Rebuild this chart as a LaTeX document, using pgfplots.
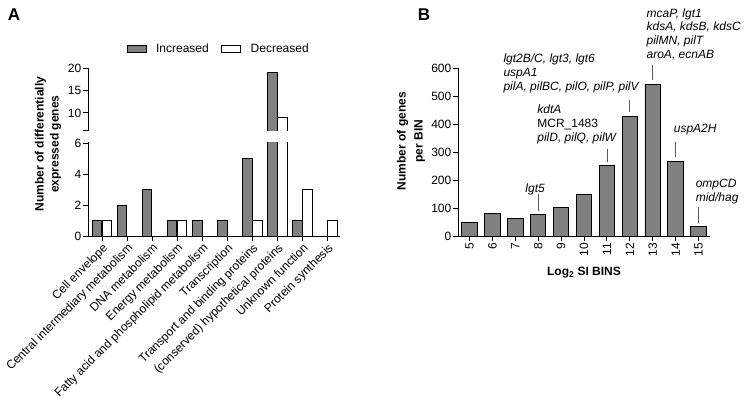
\documentclass[border=0pt]{standalone}
\usepackage{pgfplots}
\pgfplotsset{compat=1.18}
\usepackage{fontspec}
\setmainfont{Liberation Sans}
\newcommand{\fs}{\fontsize{12bp}{14bp}\selectfont}
\definecolor{barfill}{RGB}{128,128,128}
\definecolor{annline}{RGB}{90,90,90}
\tikzset{ann/.style={font=\fs\itshape, anchor=base west, inner sep=0pt}}
\begin{document}
\begin{tikzpicture}
\path[use as bounding box] (0bp,0bp) rectangle (745bp,-404bp);
\pgfplotsset{
  common/.style={
    scale only axis, width=252bp,
    axis line style={-, line width=1bp, black},
    tick style={line width=1bp, black},
    major tick length=5bp,
    tick align=outside,
    tick label style={font=\fs},
    /pgf/number format/assume math mode=true,
    yticklabel style={inner sep=1.5bp},
  },
  incbar/.style={ybar, bar width=9.5bp, bar shift=-5bp, fill=barfill, draw=black, line width=0.9bp},
  decbar/.style={ybar, bar width=9.5bp, bar shift=5bp, fill=white, draw=black, line width=0.9bp},
}
% panel letters
\node[font=\fontsize{17bp}{19bp}\selectfont\bfseries, anchor=center] at (14bp,-15bp) {A};
\node[font=\fontsize{17bp}{19bp}\selectfont\bfseries, anchor=center] at (424bp,-15bp) {B};
% y labels
\node[font=\fs\bfseries, align=center, rotate=90, anchor=center] at (48bp,-144bp) {Number of differentially\\[1bp]expressed genes};
\node[font=\fs\bfseries, align=center, rotate=90, anchor=center] at (411bp,-141bp) {Number of genes\\[3bp]per BIN};

% ---------------- Panel A (broken y axis via coordinate transformation) ----------------
\begin{axis}[common, at={(88bp,-236bp)}, anchor=south west, height=168bp,
  y coord trafo/.code={\pgfmathparse{#1>6.1 ? 6.839+(#1-6.2)*0.2903 : #1}},
  ymin=0, ymax=20,
  ytick={0,2,4,6,10,15,20}, yticklabels={0,2,4,6,10,15,20},
  extra y ticks={6.2}, extra y tick labels={},
  xmin=-0.56, xmax=9.5,
  axis x line*=bottom, axis y line*=left,
  xtick={0,...,9},
  xticklabels={Cell envelope, Central intermediary metabolism, DNA metabolism, Energy metabolism, Fatty acid and phospholipid metabolism, Transcription, Transport and binding proteins, (conserved) hypothetical proteins, Unknown function, Protein synthesis},
  xticklabel style={rotate=45, anchor=north east, inner sep=1bp, font=\fs},
  clip=false,
  legend image code/.code={\draw[#1, line width=0.9bp] (0bp,-3.5bp) rectangle (19bp,3.5bp);},
  legend style={draw=none, fill=none, font=\fs, legend columns=2, inner sep=0pt, outer sep=0pt,
    at={(0.1536,1)}, anchor=west, yshift=19.3bp,
    /tikz/every odd column/.append style={column sep=7.5bp},
    /tikz/every even column/.append style={column sep=10.5bp}},
]
\addlegendimage{fill=barfill, draw=black}
\addlegendentry{Increased}
\addlegendimage{fill=white, draw=black}
\addlegendentry{Decreased}
\addplot[incbar] coordinates {(0,1) (1,2) (2,3) (3,1) (4,1) (5,1) (6,5) (7,19) (8,1)};
\addplot[decbar] coordinates {(0,1) (3,1) (6,1) (7,9) (8,3) (9,1)};
% the break of the y axis
\fill[white] ([xshift=-1bp]rel axis cs:0,0.5575) rectangle (rel axis cs:1,0.626);
\end{axis}

% ---------------- Panel B ----------------
\begin{axis}[common, at={(458bp,-236bp)}, anchor=south west, height=168bp,
  ymin=0, ymax=600, ytick={0,100,...,600},
  xmin=4.5, xmax=15.5, xtick={5,...,15},
  axis x line*=bottom, axis y line*=left,
  xticklabel style={rotate=90, anchor=east, inner sep=2bp},
  xlabel={\textbf{Log\textsubscript{2} SI BINS}},
  xlabel style={font=\fs, yshift=-5bp},
  clip=false,
]
\addplot[ybar, bar width=15.5bp, bar shift=0pt, fill=barfill, draw=black, line width=0.9bp]
  coordinates {(5,47) (6,82) (7,63) (8,76) (9,101) (10,150) (11,253) (12,428) (13,540) (14,265) (15,33)};
% annotation lines
\draw[annline, line width=0.8bp] (axis cs:8,89) -- (axis cs:8,150);
\draw[annline, line width=0.8bp] (axis cs:11,264) -- (axis cs:11,311);
\draw[annline, line width=0.8bp] (axis cs:12,443) -- (axis cs:12,486);
\draw[annline, line width=0.8bp] (axis cs:13,557) -- (axis cs:13,611);
\draw[annline, line width=0.8bp] (axis cs:14,282) -- (axis cs:14,336);
\draw[annline, line width=0.8bp] (axis cs:15,46) -- (axis cs:15,104);
% annotation texts
\node[ann] at (axis cs:7.435,157) {lgt5};
\node[ann] at (axis cs:7.957,439) {kdtA};
\node[ann] at (axis cs:7.957,389) {\upshape MCR\_1483};
\node[ann] at (axis cs:7.957,339) {pilD, pilQ, pilW};
\node[ann] at (axis cs:6.478,618) {lgt2B/C, lgt3, lgt6};
\node[ann] at (axis cs:6.478,568) {uspA1};
\node[ann] at (axis cs:6.478,518) {pilA, pilBC, pilO, pilP, pilV};
\node[ann] at (axis cs:12.726,782) {mcaP, lgt1};
\node[ann] at (axis cs:12.726,733) {kdsA, kdsB, kdsC};
\node[ann] at (axis cs:12.726,684) {pilMN, pilT};
\node[ann] at (axis cs:12.726,635) {aroA, ecnAB};
\node[ann] at (axis cs:13.913,368) {uspA2H};
\node[ann] at (axis cs:14.87,175) {ompCD};
\node[ann] at (axis cs:14.87,125) {mid/hag};
\end{axis}
\end{tikzpicture}
\end{document}
